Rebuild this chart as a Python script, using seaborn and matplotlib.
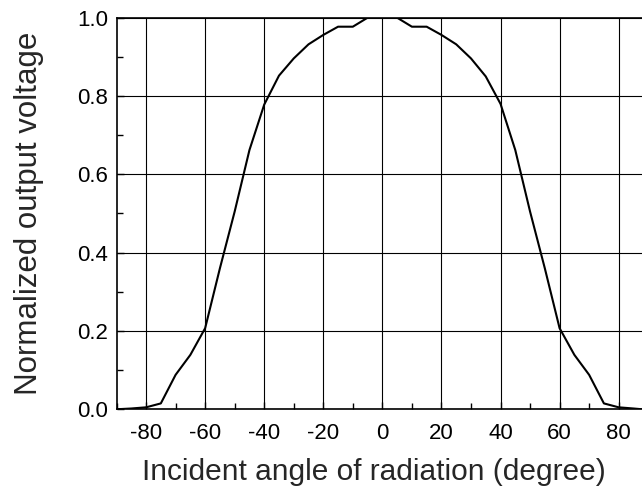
import numpy as np
import pandas as pd
import matplotlib
matplotlib.use("Agg")
import matplotlib.pyplot as plt
import seaborn as sns
from matplotlib.ticker import MultipleLocator

# Datos (angulo en grados, voltaje normalizado)
angles = [-90, -85, -80, -75, -70, -65, -60, -55, -50, -45, -40, -35, -30, -25,
          -20, -15, -10, -5, 0, 5, 10, 15, 20, 25, 30, 35, 40, 45, 50, 55, 60,
          65, 70, 75, 80, 85, 88]
voltage = [0.0, 0.002, 0.005, 0.015, 0.088, 0.139, 0.207, 0.36, 0.505, 0.662,
           0.778, 0.852, 0.896, 0.932, 0.956, 0.977, 0.977, 1.0, 1.0, 1.0,
           0.977, 0.977, 0.956, 0.932, 0.896, 0.85, 0.78, 0.662, 0.505, 0.36,
           0.207, 0.139, 0.088, 0.015, 0.005, 0.002, 0.0]
x_ticks = [-80, -60, -40, -20, 0, 20, 40, 60, 80]
y_ticks = [0.0, 0.2, 0.4, 0.6, 0.8, 1.0]

df = pd.DataFrame({"angle": angles, "voltage": voltage})

sns.set_style("white")
plt.rcParams['font.family'] = ['Liberation Sans', 'DejaVu Sans']
plt.rcParams['axes.unicode_minus'] = False

fig = plt.figure(figsize=(6.42, 4.97), dpi=100)
ax = fig.add_axes([0.1815, 0.1765, 1.0 - 0.1815, 0.9644 - 0.1765])

sns.lineplot(data=df, x="angle", y="voltage", ax=ax, color="black",
             linewidth=1.5, zorder=3)

ax.set_xlim(-90, 87.9)
ax.set_ylim(0, 1.0)
ax.set_xticks(x_ticks)
ax.set_yticks(y_ticks)
ax.set_yticklabels([f"{v:.1f}" for v in y_ticks])
ax.xaxis.set_minor_locator(MultipleLocator(10))
ax.yaxis.set_minor_locator(MultipleLocator(0.1))
ax.tick_params(which="both", direction="in", labelsize=16, colors="black",
               top=False, right=False, bottom=True, left=True)
ax.tick_params(which="major", length=5, width=1, pad=6)
ax.tick_params(axis="x", which="major", pad=10)
ax.tick_params(which="minor", length=4, width=1)
ax.grid(True, which="major", color="black", linewidth=0.8)

for side in ["left", "bottom", "top"]:
    ax.spines[side].set_color("black")
    ax.spines[side].set_linewidth(1.2)
ax.spines["right"].set_visible(False)

ax.set_xlabel("Incident angle of radiation (degree)", fontsize=21.5)
ax.set_ylabel("Normalized output voltage", fontsize=22.5)
ax.xaxis.set_label_coords(0.489, -0.125)
ax.yaxis.set_label_coords(-0.138, 0.5)

fig.savefig("out.png", dpi=100)
